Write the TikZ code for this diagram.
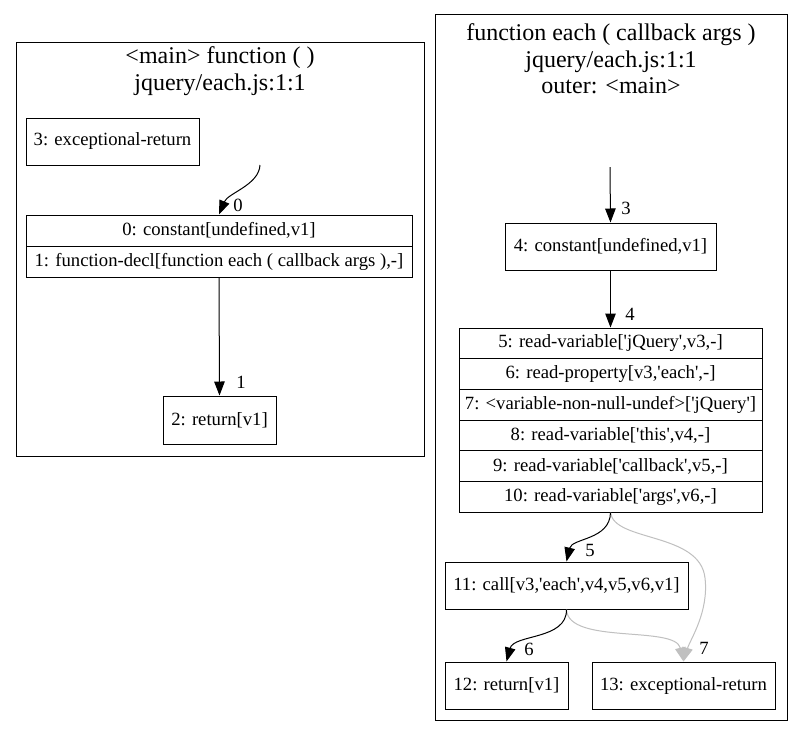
\documentclass[tikz,border=0pt]{standalone}
\usepackage{fontspec}
\setmainfont{Liberation Serif}
\usetikzlibrary{arrows.meta,calc}
\newcommand{\q}{\textquotesingle}
\begin{document}
\begin{tikzpicture}[x=1pt,y=-1pt,
  nodefont/.style={font=\fontsize{18.67}{22}\selectfont},
  box/.style={draw,line width=1pt,inner sep=0pt,nodefont},
  cluster/.style={draw,line width=1pt},
  title/.style={align=center,font=\fontsize{24}{26.5}\selectfont,inner sep=0pt},
  arr/.style={line width=1pt,-{Triangle[length=14pt,width=10.5pt]}},
  garr/.style={arr,draw=edgegray,color=edgegray},
  elabel/.style={nodefont,inner sep=0pt}
]
\definecolor{edgegray}{HTML}{C0C0C0}
\fill[white] (0,0) rectangle (803,737);
\useasboundingbox (0,0) rectangle (803,737);
% clusters
\draw[cluster] (16,42) rectangle (424,456);
\draw[cluster] (435,14) rectangle (787,720);
\node[title] (tl) at (220,71) {<main> function ( )\\jquery/each.js:1:1};
\node[title] (tr) at (611,59) {function each ( callback args )\\jquery/each.js:1:1\\outer: <main>};
% left nodes
\node[box,minimum width=173pt,minimum height=47pt] (n3) at (112.5,141.5) {3: exceptional-return};
\node[box,minimum width=386pt,minimum height=31pt] (n0) at (219,230.5) {0: constant[undefined,v1]};
\node[box,minimum width=386pt,minimum height=31pt] (n1) at (219,261.5) {1: function-decl[function each ( callback args ),-]};
\node[box,minimum width=113pt,minimum height=48pt] (n2) at (219.5,420) {2: return[v1]};
\coordinate (s0) at (260,165);
% right nodes
\node[box,minimum width=211pt,minimum height=47pt] (n4) at (610.5,246.5) {4: constant[undefined,v1]};
\node[box,minimum width=303pt,minimum height=30.67pt] (n5) at (610.5,343.33) {5: read-variable[\q jQuery\q,v3,-]};
\node[box,minimum width=303pt,minimum height=30.67pt] (n6) at (610.5,374) {6: read-property[v3,\q each\q,-]};
\node[box,minimum width=303pt,minimum height=30.67pt] (n7) at (610.5,404.67) {7: <variable-non-null-undef>[\q jQuery\q]};
\node[box,minimum width=303pt,minimum height=30.67pt] (n8) at (610.5,435.33) {8: read-variable[\q this\q,v4,-]};
\node[box,minimum width=303pt,minimum height=30.67pt] (n9) at (610.5,466) {9: read-variable[\q callback\q,v5,-]};
\node[box,minimum width=303pt,minimum height=30.67pt] (n10) at (610.5,496.67) {10: read-variable[\q args\q,v6,-]};
\node[box,minimum width=243pt,minimum height=47pt] (n11) at (566.5,585.5) {11: call[v3,\q each\q,v4,v5,v6,v1]};
\node[box,minimum width=123pt,minimum height=47pt] (n12) at (506.5,685.5) {12: return[v1]};
\node[box,minimum width=183pt,minimum height=47pt] (n13) at (683.5,685.5) {13: exceptional-return};
\coordinate (s3) at (610,167);
% edges left
\draw[arr] (s0) .. controls (259,185) and (228,193) .. (n0.north);
\node[elabel] (l0) at (238,205) {0};
\draw[arr] (n1.south) -- (n2.north);
\node[elabel] (l1) at (241,382) {1};
% edges right
\draw[arr] (s3) -- (n4.north);
\node[elabel] (l3) at (626,208) {3};
\draw[arr] (n4.south) -- (n4.south |- n5.north);
\node[elabel] (l4) at (630,314) {4};
\draw[garr] (n10.south) .. controls (614,542) and (700,532) .. (705,578) .. controls (709,612) and (690,640) .. (n13.north);
\draw[garr] (n11.south) .. controls (568,645) and (675,625) .. (n13.north);
\draw[arr] (n10.south) .. controls (610,540) and (572,538) .. (n11.north);
\node[elabel] (l5) at (590,550) {5};
\draw[arr] (n11.south) .. controls (567,640) and (514,634) .. (n12.north);
\node[elabel] (l6) at (529,649) {6};
\node[elabel] (l7) at (704,648) {7};
\end{tikzpicture}
\end{document}
